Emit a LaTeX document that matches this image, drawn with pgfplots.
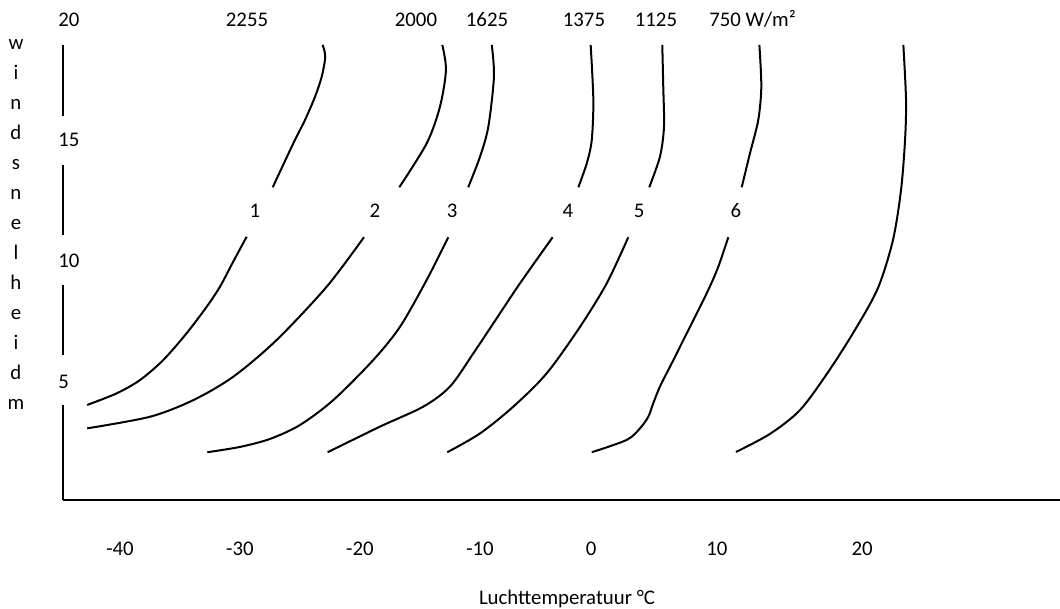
\documentclass[border=0pt]{standalone}
\usepackage{fontspec}
\setmainfont{Carlito}
\usepackage{pgfplots}
\pgfplotsset{compat=1.18}
\begin{document}
\begin{tikzpicture}[font=\fontsize{10.4}{12.5}\selectfont]
\begin{axis}[
  scale only axis, width=498.5pt, height=250pt,
  xmin=-44.35, xmax=37.50, ymin=0, ymax=20.72,
  clip=false,
  axis line style={draw=none},
  tick style={draw=none},
  major tick length=0pt,
  xtick={-39.67,-29.82,-19.97,-10.11,-1.00,9.34,21.25},
  xticklabels={-40,-30,-20,-10,0,10,20},
  ytick={4.89,9.90,14.92,19.89},
  yticklabels={5,10,15,20},
  /pgf/number format/assume math mode=true,
  xticklabel style={anchor=center, inner sep=0pt, yshift=-24.5pt},
  yticklabel style={anchor=west, inner sep=0pt, xshift=-2.5pt},
  xlabel={Luchttemperatuur °C},
  xlabel style={at={(rel axis cs:0.5055,-0.208)}, anchor=base, inner sep=0pt},
  every axis plot/.append style={black, line width=1pt},
]
% axis lines
\addplot[line width=1.1pt] coordinates {(-44.35,0) (37.50,0)};
\addplot[line width=1.2pt] coordinates {(-44.35,18.86) (-44.35,15.91)};
\addplot[line width=1.2pt] coordinates {(-44.35,13.88) (-44.35,10.98)};
\addplot[line width=1.2pt] coordinates {(-44.35,8.91) (-44.35,6.01)};
\addplot[line width=1.2pt] coordinates {(-44.35,3.94) (-44.35,0)};
% curve 1
\addplot[smooth] coordinates {(-42.36,3.94) (-39.94,4.42) (-38.03,4.97) (-36.12,5.80) (-34.20,6.91) (-32.55,8.01) (-31.46,8.84) (-30.37,9.88) (-29.27,10.91)};
\addplot[smooth] coordinates {(-27.13,12.96) (-25.44,14.78) (-24.48,15.75) (-23.66,16.71) (-23.11,17.54) (-22.82,18.37) (-23.03,18.86)};
% curve 2
\addplot[smooth] coordinates {(-42.36,2.97) (-37.21,3.45) (-33.65,4.14) (-30.37,5.11) (-26.81,6.63) (-22.70,8.84) (-19.64,10.89)};
\addplot[smooth] coordinates {(-16.74,12.96) (-14.49,14.78) (-13.40,16.30) (-12.91,17.82) (-13.21,18.86)};
% curve 3
\addplot[smooth] coordinates {(-32.50,1.98) (-29.82,2.20) (-27.36,2.53) (-24.89,3.11) (-22.16,4.14) (-18.88,5.80) (-16.68,7.18) (-14.49,9.12) (-12.72,10.89)};
\addplot[smooth] coordinates {(-11.08,12.96) (-10.11,14.23) (-9.43,15.47) (-8.97,17.54) (-9.15,18.86)};
% curve 4
\addplot[smooth] coordinates {(-22.62,1.98) (-18.33,3.04) (-14.77,3.87) (-12.58,4.70) (-10.66,6.08) (-9.02,7.32) (-6.83,8.98) (-4.15,10.89)};
\addplot[smooth] coordinates {(-2.04,12.96) (-1.35,13.95) (-0.94,14.92) (-0.81,16.58) (-1.03,18.86)};
% curve 5
\addplot[smooth] coordinates {(-12.80,1.98) (-10.11,2.76) (-7.38,3.87) (-4.64,5.25) (-1.90,7.18) (0.29,8.98) (2.06,10.89)};
\addplot[smooth] coordinates {(3.78,12.96) (4.66,14.23) (4.99,15.47) (4.93,17.13) (4.85,18.86)};
% curve 6
\addplot[smooth] coordinates {(-0.94,1.98) (1.93,2.49) (3.02,2.97) (3.70,3.45) (4.11,4.01) (4.66,4.70) (5.76,5.80) (6.58,6.63) (8.50,8.57) (9.45,9.67) (10.27,10.89)};
\addplot[smooth] coordinates {(11.37,12.96) (12.05,14.37) (12.73,15.75) (12.98,17.13) (12.82,18.86)};
% curve 7
\addplot[smooth] coordinates {(10.90,1.99) (13.69,2.74) (16.16,3.73) (18.46,5.30) (20.67,7.05) (22.56,8.79) (23.79,10.78) (24.45,12.85) (24.78,14.92) (24.86,16.58) (24.64,18.86)};
% curve numbers
\node[anchor=base, inner sep=0pt] at (axis cs:-28.59,11.69) {1};
\node[anchor=base, inner sep=0pt] at (axis cs:-18.74,11.69) {2};
\node[anchor=base, inner sep=0pt] at (axis cs:-12.41,11.69) {3};
\node[anchor=base, inner sep=0pt] at (axis cs:-2.89,11.69) {4};
\node[anchor=base, inner sep=0pt] at (axis cs:2.94,11.69) {5};
\node[anchor=base, inner sep=0pt] at (axis cs:10.90,11.69) {6};
% irradiance labels
\node[anchor=base, inner sep=0pt] at (axis cs:-29.24,19.64) {2255};
\node[anchor=base, inner sep=0pt] at (axis cs:-15.37,19.64) {2000};
\node[anchor=base, inner sep=0pt] at (axis cs:-9.54,19.64) {1625};
\node[anchor=base, inner sep=0pt] at (axis cs:-1.58,19.64) {1375};
\node[anchor=base, inner sep=0pt] at (axis cs:4.33,19.64) {1125};
\node[anchor=base, inner sep=0pt] at (axis cs:12.26,19.64) {750 W/m²};
% vertical y label
\node[anchor=base, inner sep=0pt, font=\fontsize{10.4}{15}\selectfont] at (axis cs:-48.21,18.65)
  {\begin{tabular}[t]{@{}c@{}}w\\i\\n\\d\\s\\n\\e\\l\\h\\e\\i\\d\\m\end{tabular}};
\coordinate (bbsw) at (axis cs:-49.52,-4.476);
\coordinate (bbne) at (axis cs:37.50,20.72);
\end{axis}
\pgfresetboundingbox
\path[use as bounding box] (bbsw) rectangle (bbne);
\end{tikzpicture}
\end{document}
